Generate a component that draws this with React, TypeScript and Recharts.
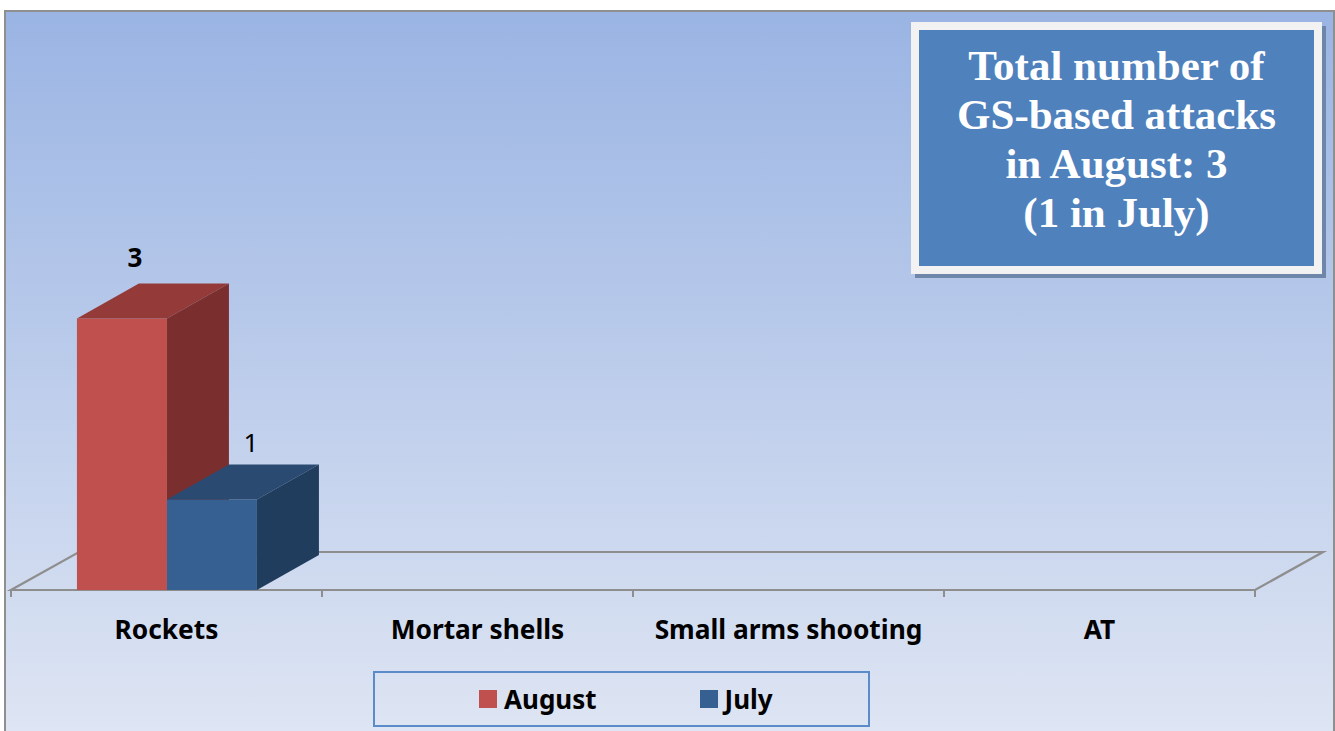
import React from 'react';
import { BarChart, Bar, XAxis, YAxis, Legend, LabelList, ReferenceLine } from 'recharts';

const categories = ['Rockets', 'Mortar shells', 'Small arms shooting', 'AT'];
const augustValues: (number | null)[] = [3, null, null, null];
const julyValues: (number | null)[] = [1, null, null, null];
const seriesNames = ['August', 'July'];
const titleLines = ['Total number of', 'GS-based attacks', 'in August: 3', '(1 in July)'];

const data = categories.map((c, i) => ({ name: c, August: augustValues[i], July: julyValues[i] }));

const FONT = "'Noto Sans', 'Open Sans', sans-serif";
const DX = 62;
const DY = 35;
const FLOOR_DX = 68;
const FLOOR_DY = 38;

const colors = {
  August: { front: '#C0504D', top: '#943A38', side: '#7A2F2E', legend: '#C0504D' },
  July: { front: '#366092', top: '#2A4A72', side: '#213D5E', legend: '#376092' },
};

const make3D = (c: { front: string; top: string; side: string }) => (props: any) => {
  const { x, y, width, height } = props;
  if (height == null || height <= 0 || width == null) return null;
  return (
    <g>
      <rect x={x} y={y} width={width} height={height} fill={c.front} />
      <polygon
        points={`${x},${y} ${x + DX},${y - DY} ${x + width + DX},${y - DY} ${x + width},${y}`}
        fill={c.top}
      />
      <polygon
        points={`${x + width},${y} ${x + width + DX},${y - DY} ${x + width + DX},${y + height - DY} ${x + width},${y + height}`}
        fill={c.side}
      />
    </g>
  );
};

const Floor = (props: any) => {
  const { x1, y1, x2 } = props;
  const left = Math.min(x1, x2);
  const right = Math.max(x1, x2);
  const y = y1;
  const n = categories.length;
  const step = (right - left) / n;
  const ticks = Array.from({ length: n + 1 }, (_, i) => left + i * step);
  return (
    <g>
      <polygon
        points={`${left},${y} ${right},${y} ${right + FLOOR_DX},${y - FLOOR_DY} ${left + FLOOR_DX},${y - FLOOR_DY}`}
        fill="none"
        stroke="#8E8E8E"
        strokeWidth={2.2}
      />
      {ticks.map((tx, i) => (
        <line key={i} x1={tx} y1={y} x2={tx} y2={y + 7} stroke="#8E8E8E" strokeWidth={2} />
      ))}
    </g>
  );
};

const makeLabel = (offX: number, offY: number, weight: number) => (props: any) => {
  const vb = props.viewBox || props;
  const x = vb.x ?? props.x;
  const y = vb.y ?? props.y;
  const width = vb.width ?? props.width;
  const { value } = props;
  if (value == null || x == null) return null;
  return (
    <text
      x={x + width / 2 + offX}
      y={y - offY}
      textAnchor="middle"
      fontFamily={FONT}
      fontSize={26}
      fontWeight={weight}
      fill="#000"
    >
      {value}
    </text>
  );
};

const CategoryTick = (props: any) => {
  const { x, y, payload } = props;
  return (
    <text x={x} y={y + 40} textAnchor="middle" fontFamily={FONT} fontSize={26.3} fontWeight={700} fill="#000">
      {payload.value}
    </text>
  );
};

const LegendContent = () => (
  <div
    style={{
      width: 497,
      height: 56,
      boxSizing: 'border-box',
      border: '2px solid #5B8BC8',
      display: 'flex',
      alignItems: 'center',
      paddingLeft: 104,
      fontFamily: FONT,
      fontWeight: 700,
      fontSize: 26,
      color: '#000',
    }}
  >
    {seriesNames.map((s, i) => (
      <div key={s} style={{ display: 'flex', alignItems: 'center', marginRight: i === 0 ? 103 : 0 }}>
        <span
          style={{
            display: 'inline-block',
            width: 18,
            height: 18,
            background: (colors as any)[s].legend,
            marginRight: 7,
          }}
        />
        <span style={{ lineHeight: '30px' }}>{s}</span>
      </div>
    ))}
  </div>
);

const TitleBox = () => (
  <div
    style={{
      position: 'absolute',
      left: 911,
      top: 22,
      width: 411,
      height: 252,
      boxSizing: 'border-box',
      background: '#F2F2F2',
      padding: 8,
      boxShadow: '4px 4px 0 #6F86AB',
    }}
  >
    <div
      style={{
        width: '100%',
        height: '100%',
        background: '#4F81BD',
        boxSizing: 'border-box',
        paddingTop: 11,
        textAlign: 'center',
        color: '#FFFFFF',
        fontFamily: "'Liberation Serif', 'Times New Roman', serif",
        fontWeight: 700,
        fontSize: 43,
        lineHeight: '49px',
        whiteSpace: 'nowrap',
      }}
    >
      {titleLines.map((l) => (
        <div key={l}>{l}</div>
      ))}
    </div>
  </div>
);

export default function App() {
  return (
    <div
      style={{
        position: 'absolute',
        left: 0,
        top: 0,
        width: 1335,
        height: 731,
        background: '#FFFFFF',
        overflow: 'hidden',
      }}
    >
      <div
        style={{
          position: 'absolute',
          left: 4,
          top: 10,
          width: 1327,
          height: 740,
          border: '2px solid #8F8F8F',
          background: 'linear-gradient(to bottom, #9AB4E3 0px, #DEE5F3 722px)',
        }}
      />
      <div style={{ position: 'absolute', left: 0, top: 0 }}>
        <BarChart
          width={1335}
          height={731}
          data={data}
          margin={{ top: 47, right: 80, bottom: 81, left: 11 }}
          barCategoryGap="21.2%"
          barGap={0}
        >
          <YAxis hide domain={[0, 6]} />
          <XAxis
            dataKey="name"
            height={60}
            axisLine={false}
            tickLine={false}
            tickSize={7}
            tickMargin={2}
            tick={<CategoryTick />}
            interval={0}
          />
          <ReferenceLine y={0} shape={<Floor />} ifOverflow="visible" zIndex={-10} />
          <Bar
            dataKey="August"
            name="August"
            fill={colors.August.front}
            shape={make3D(colors.August)}
            isAnimationActive={false}
          >
            <LabelList dataKey="August" content={makeLabel(13, 52, 700)} />
          </Bar>
          <Bar
            dataKey="July"
            name="July"
            fill={colors.July.front}
            shape={make3D(colors.July)}
            isAnimationActive={false}
          >
            <LabelList dataKey="July" content={makeLabel(39, 48, 400)} />
          </Bar>
          <Legend
            layout="horizontal"
            verticalAlign="middle"
            align="center"
            content={<LegendContent />}
            wrapperStyle={{ left: 373, top: 671, width: 497, height: 56 }}
          />
        </BarChart>
      </div>
      <TitleBox />
    </div>
  );
}
